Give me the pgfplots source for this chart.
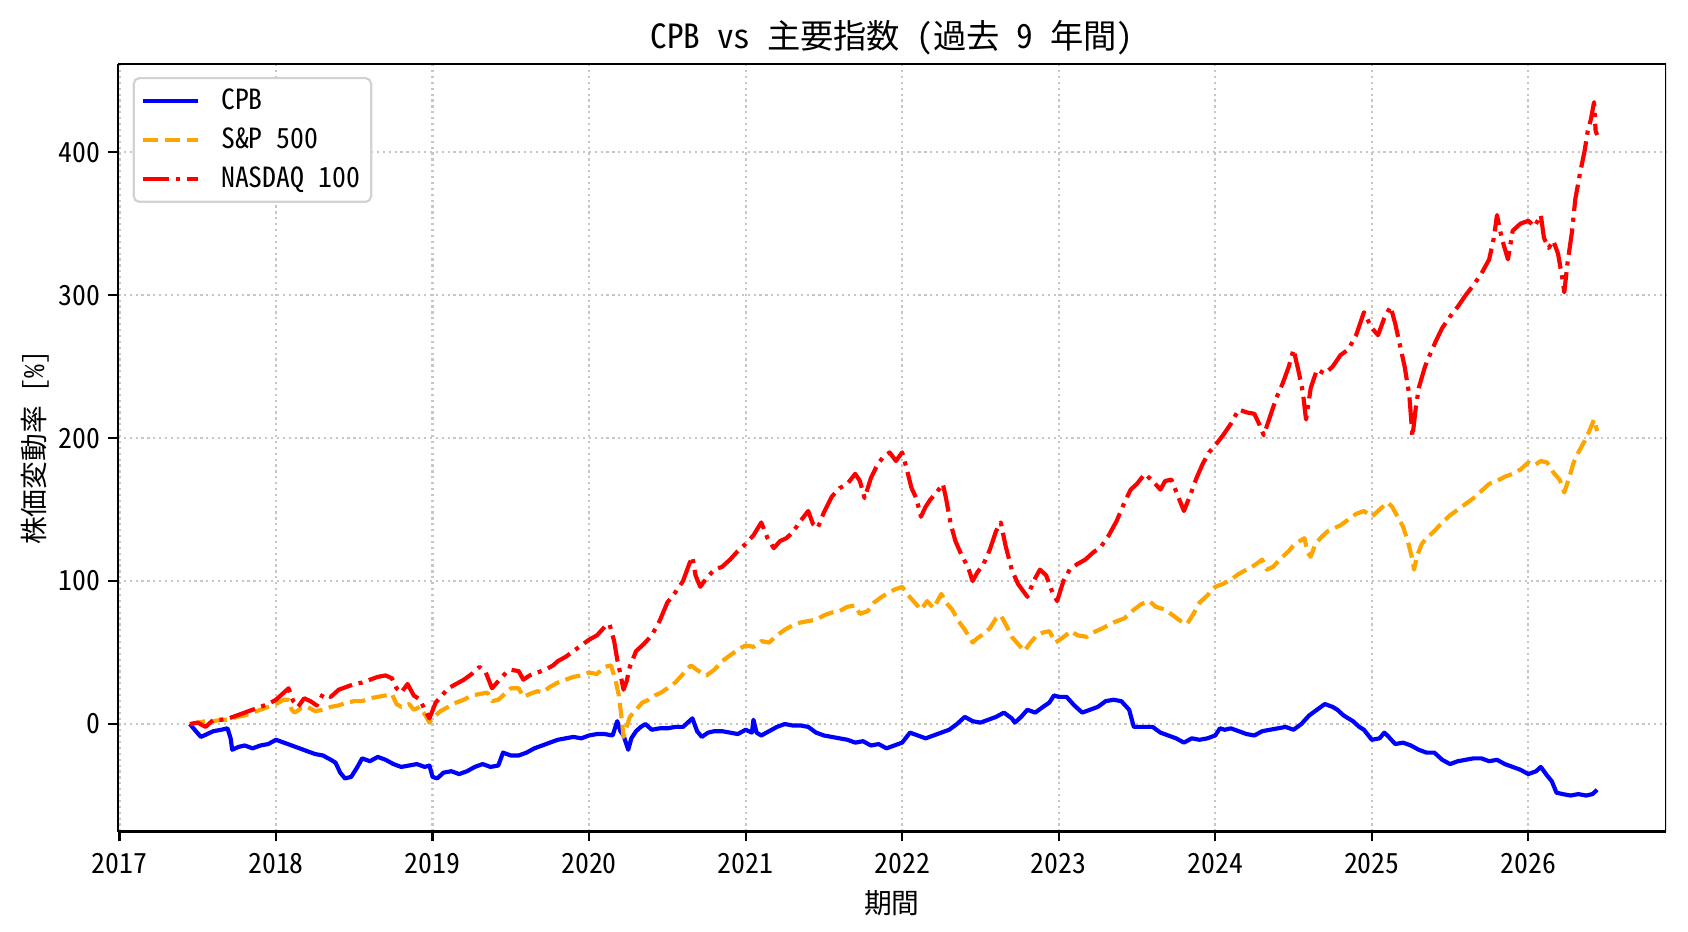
\documentclass[border=0pt]{standalone}
\usepackage{pgfplots}
\pgfplotsset{compat=1.18}
\usepackage{fontspec}
\setmainfont{Noto Sans Mono CJK JP}
\definecolor{mplblue}{RGB}{0,0,255}
\definecolor{mplorange}{RGB}{255,165,0}
\definecolor{mplred}{RGB}{255,0,0}
\begin{document}
\begin{tikzpicture}
\path[use as bounding box] (0,0) rectangle (760pt,419.4pt);
\begin{axis}[
  at={(53.1pt,45pt)}, anchor=south west,
  scale only axis, width=697pt, height=345.6pt,
  xmin=2016.99, xmax=2026.88, ymin=-75.2, ymax=461.7,
  xtick={2017,2018,2019,2020,2021,2022,2023,2024,2025,2026},
  ytick={0,100,200,300,400},
  /pgf/number format/1000 sep={},
  /pgf/number format/assume math mode=true,
  tick align=outside, axis x line*=bottom, axis y line*=left,
  every axis plot/.append style={line width=1.875pt, line join=round},
  major tick length=4.4pt,
  tick style={black, line width=1pt},
  axis line style={line width=1pt},
  grid=major,
  major grid style={gray!45, line width=1pt, dash pattern=on 1pt off 1.65pt},
  tick label style={font=\fontsize{12.5}{14}\selectfont},
  xticklabel style={yshift=-2pt},
  label style={font=\fontsize{12.5}{14}\selectfont},
  title style={font=\fontsize{15}{17}\selectfont, yshift=-5.5pt},
  title={CPB vs 主要指数 (過去 9 年間)},
  xlabel={期間}, ylabel={株価変動率 [\%]},
  xlabel style={yshift=-0.5pt},
  ylabel shift=-2.5pt,
  legend style={at={(0.0095,0.983)}, anchor=north west, draw=gray!35, rounded corners=2.5pt,
    line width=1pt, font=\fontsize{12.5}{14}\selectfont, row sep=2.6pt, inner sep=3pt},
  legend cell align=left,
  legend image code/.code={\draw[#1] (0pt,0pt) -- (25pt,0pt); \path (32.5pt,0pt);},
]
\addplot[mplblue, solid] coordinates {(2017.45,0) (2017.48,-4) (2017.52,-9) (2017.56,-7) (2017.6,-5) (2017.65,-4) (2017.69,-3) (2017.71,-10) (2017.72,-18) (2017.76,-16) (2017.8,-15) (2017.85,-17) (2017.9,-15) (2017.95,-14) (2018.0,-11) (2018.05,-13) (2018.1,-15) (2018.15,-17) (2018.2,-19) (2018.25,-21) (2018.3,-22) (2018.35,-25) (2018.38,-27) (2018.41,-34) (2018.44,-38) (2018.48,-37) (2018.52,-30) (2018.55,-24) (2018.6,-26) (2018.65,-23) (2018.7,-25) (2018.75,-28) (2018.8,-30) (2018.85,-29) (2018.9,-28) (2018.95,-30) (2018.98,-29) (2019.0,-37) (2019.03,-38) (2019.07,-34) (2019.12,-33) (2019.17,-35) (2019.22,-33) (2019.27,-30) (2019.32,-28) (2019.37,-30) (2019.42,-29) (2019.45,-20) (2019.5,-22) (2019.55,-22) (2019.6,-20) (2019.65,-17) (2019.7,-15) (2019.75,-13) (2019.8,-11) (2019.85,-10) (2019.9,-9) (2019.95,-10) (2020.0,-8) (2020.05,-7) (2020.1,-7) (2020.15,-8) (2020.18,2) (2020.2,-5) (2020.22,-8) (2020.25,-18) (2020.27,-10) (2020.3,-5) (2020.33,-2) (2020.36,0) (2020.4,-4) (2020.45,-3) (2020.5,-3) (2020.55,-2) (2020.6,-2) (2020.64,2) (2020.66,4) (2020.69,-5) (2020.72,-9) (2020.76,-6) (2020.8,-5) (2020.85,-5) (2020.9,-6) (2020.95,-7) (2021.0,-4) (2021.04,-6) (2021.05,3) (2021.07,-6) (2021.1,-8) (2021.15,-5) (2021.2,-2) (2021.25,0) (2021.3,-1) (2021.35,-1) (2021.4,-2) (2021.45,-6) (2021.5,-8) (2021.55,-9) (2021.6,-10) (2021.65,-11) (2021.7,-13) (2021.75,-12) (2021.8,-15) (2021.85,-14) (2021.9,-17) (2021.95,-15) (2022.0,-13) (2022.05,-6) (2022.1,-8) (2022.15,-10) (2022.2,-8) (2022.25,-6) (2022.3,-4) (2022.35,0) (2022.4,5) (2022.45,2) (2022.5,1) (2022.55,3) (2022.6,5) (2022.65,8) (2022.7,4) (2022.72,1) (2022.76,5) (2022.8,10) (2022.85,8) (2022.9,12) (2022.94,15) (2022.97,20) (2023.0,19) (2023.05,19) (2023.1,13) (2023.15,8) (2023.2,10) (2023.25,12) (2023.3,16) (2023.35,17) (2023.4,16) (2023.45,10) (2023.48,-2) (2023.55,-2) (2023.6,-2) (2023.65,-6) (2023.7,-8) (2023.75,-10) (2023.8,-13) (2023.85,-10) (2023.9,-11) (2023.95,-10) (2024.0,-8) (2024.03,-3) (2024.06,-4) (2024.1,-3) (2024.15,-5) (2024.2,-7) (2024.25,-8) (2024.3,-5) (2024.35,-4) (2024.4,-3) (2024.45,-2) (2024.5,-4) (2024.55,0) (2024.6,6) (2024.65,10) (2024.7,14) (2024.75,12) (2024.78,10) (2024.82,6) (2024.88,2) (2024.92,-2) (2024.95,-4) (2025.0,-11) (2025.05,-10) (2025.08,-6) (2025.1,-8) (2025.15,-14) (2025.2,-13) (2025.25,-15) (2025.3,-18) (2025.35,-20) (2025.4,-20) (2025.45,-25) (2025.5,-28) (2025.55,-26) (2025.6,-25) (2025.65,-24) (2025.7,-24) (2025.75,-26) (2025.8,-25) (2025.85,-28) (2025.9,-30) (2025.95,-32) (2026.0,-35) (2026.05,-33) (2026.08,-30) (2026.12,-36) (2026.15,-40) (2026.18,-48) (2026.22,-49) (2026.27,-50) (2026.32,-49) (2026.37,-50) (2026.41,-49) (2026.44,-46)};
\addlegendentry{CPB}
\addplot[mplorange, dash pattern=on 6.94pt off 3pt] coordinates {(2017.45,0) (2017.5,1) (2017.55,2) (2017.6,2) (2017.65,3) (2017.7,3) (2017.75,5) (2017.8,6) (2017.85,8) (2017.9,10) (2017.95,12) (2018.0,14) (2018.05,17) (2018.08,17) (2018.1,10) (2018.12,8) (2018.16,11) (2018.2,12) (2018.25,9) (2018.3,10) (2018.35,12) (2018.4,13) (2018.45,15) (2018.5,16) (2018.55,16) (2018.6,18) (2018.65,19) (2018.7,20) (2018.74,21) (2018.77,14) (2018.8,12) (2018.85,14) (2018.88,10) (2018.92,12) (2018.96,5) (2018.98,1) (2019.0,4) (2019.05,9) (2019.1,12) (2019.15,15) (2019.2,17) (2019.25,20) (2019.3,21) (2019.35,22) (2019.38,16) (2019.42,17) (2019.47,22) (2019.5,25) (2019.55,25) (2019.58,19) (2019.62,21) (2019.67,23) (2019.7,22) (2019.75,26) (2019.8,29) (2019.85,31) (2019.9,33) (2019.95,34) (2020.0,36) (2020.05,35) (2020.1,40) (2020.14,41) (2020.17,30) (2020.19,20) (2020.21,2) (2020.22,-9) (2020.24,-2) (2020.26,5) (2020.3,10) (2020.34,15) (2020.38,17) (2020.42,20) (2020.46,22) (2020.5,25) (2020.55,29) (2020.6,35) (2020.65,41) (2020.7,37) (2020.75,34) (2020.8,38) (2020.85,44) (2020.9,48) (2020.95,52) (2021.0,55) (2021.05,54) (2021.1,58) (2021.15,57) (2021.2,62) (2021.25,66) (2021.3,69) (2021.35,71) (2021.4,72) (2021.45,73) (2021.5,76) (2021.55,78) (2021.6,79) (2021.65,82) (2021.7,83) (2021.73,77) (2021.78,79) (2021.82,85) (2021.87,89) (2021.9,91) (2021.95,94) (2022.0,96) (2022.04,90) (2022.08,85) (2022.12,80) (2022.16,86) (2022.2,81) (2022.25,91) (2022.28,85) (2022.32,80) (2022.36,72) (2022.4,66) (2022.45,57) (2022.48,60) (2022.52,63) (2022.56,67) (2022.6,74) (2022.63,76) (2022.67,68) (2022.7,61) (2022.74,56) (2022.78,51) (2022.82,57) (2022.86,62) (2022.9,64) (2022.94,65) (2022.98,57) (2023.02,60) (2023.08,65) (2023.12,62) (2023.18,61) (2023.22,64) (2023.28,67) (2023.35,71) (2023.42,74) (2023.48,80) (2023.53,84) (2023.58,86) (2023.62,82) (2023.68,80) (2023.73,76) (2023.78,72) (2023.82,70) (2023.86,77) (2023.9,85) (2023.95,90) (2024.0,96) (2024.05,98) (2024.1,101) (2024.15,105) (2024.2,108) (2024.25,111) (2024.3,115) (2024.33,108) (2024.37,110) (2024.42,116) (2024.47,121) (2024.5,125) (2024.54,128) (2024.57,130) (2024.59,120) (2024.61,117) (2024.64,126) (2024.68,131) (2024.72,135) (2024.76,137) (2024.8,139) (2024.85,143) (2024.9,147) (2024.95,149) (2025.0,145) (2025.05,150) (2025.1,155) (2025.13,152) (2025.17,144) (2025.2,138) (2025.23,128) (2025.26,115) (2025.27,108) (2025.29,118) (2025.32,126) (2025.35,130) (2025.4,135) (2025.45,141) (2025.5,146) (2025.55,150) (2025.6,154) (2025.65,158) (2025.7,163) (2025.75,168) (2025.8,170) (2025.85,173) (2025.9,175) (2025.95,178) (2026.0,183) (2026.04,181) (2026.08,184) (2026.12,183) (2026.16,176) (2026.2,171) (2026.23,162) (2026.26,172) (2026.29,183) (2026.32,190) (2026.36,198) (2026.39,205) (2026.42,213) (2026.44,205)};
\addlegendentry{S\&P 500}
\addplot[mplred, dash pattern=on 12pt off 3pt on 1.875pt off 3pt] coordinates {(2017.45,0) (2017.5,1) (2017.55,-2) (2017.6,3) (2017.65,3) (2017.7,4) (2017.75,6) (2017.8,8) (2017.85,10) (2017.9,12) (2017.95,14) (2018.0,17) (2018.05,22) (2018.08,25) (2018.11,16) (2018.14,12) (2018.18,18) (2018.22,16) (2018.26,13) (2018.3,21) (2018.35,19) (2018.4,24) (2018.45,26) (2018.5,28) (2018.55,29) (2018.6,31) (2018.65,33) (2018.7,34) (2018.74,32) (2018.77,25) (2018.8,22) (2018.84,28) (2018.88,20) (2018.92,17) (2018.95,10) (2018.98,4) (2019.02,15) (2019.06,20) (2019.1,25) (2019.15,28) (2019.2,31) (2019.25,35) (2019.3,40) (2019.34,36) (2019.38,25) (2019.42,30) (2019.47,36) (2019.5,38) (2019.55,37) (2019.58,31) (2019.62,34) (2019.67,36) (2019.72,38) (2019.77,41) (2019.8,44) (2019.85,47) (2019.9,51) (2019.95,55) (2020.0,59) (2020.05,62) (2020.1,68) (2020.13,70) (2020.16,58) (2020.18,45) (2020.2,35) (2020.22,24) (2020.24,30) (2020.26,40) (2020.3,51) (2020.35,56) (2020.4,62) (2020.45,72) (2020.5,85) (2020.55,92) (2020.6,100) (2020.64,112) (2020.66,117) (2020.68,104) (2020.71,96) (2020.75,102) (2020.8,108) (2020.85,110) (2020.9,115) (2020.95,121) (2021.0,126) (2021.05,132) (2021.1,141) (2021.14,130) (2021.18,123) (2021.22,128) (2021.26,130) (2021.3,134) (2021.35,142) (2021.4,149) (2021.43,140) (2021.46,137) (2021.5,148) (2021.55,159) (2021.6,165) (2021.65,168) (2021.7,175) (2021.73,170) (2021.76,158) (2021.8,172) (2021.84,181) (2021.88,187) (2021.92,190) (2021.96,184) (2022.0,190) (2022.03,178) (2022.06,165) (2022.09,158) (2022.12,145) (2022.15,152) (2022.18,157) (2022.22,162) (2022.26,168) (2022.28,158) (2022.31,140) (2022.34,128) (2022.38,118) (2022.42,110) (2022.45,100) (2022.48,106) (2022.52,112) (2022.56,122) (2022.6,135) (2022.63,141) (2022.66,125) (2022.7,108) (2022.74,98) (2022.78,92) (2022.8,89) (2022.84,100) (2022.88,108) (2022.92,104) (2022.96,92) (2022.99,86) (2023.03,100) (2023.07,108) (2023.12,112) (2023.17,115) (2023.22,120) (2023.27,124) (2023.32,132) (2023.37,142) (2023.42,155) (2023.46,164) (2023.5,168) (2023.55,175) (2023.6,170) (2023.65,164) (2023.68,170) (2023.72,171) (2023.76,160) (2023.8,149) (2023.84,160) (2023.88,172) (2023.92,182) (2023.96,190) (2024.0,195) (2024.05,202) (2024.1,210) (2024.15,220) (2024.2,218) (2024.25,217) (2024.28,210) (2024.31,202) (2024.35,215) (2024.39,228) (2024.43,238) (2024.47,250) (2024.5,262) (2024.53,248) (2024.56,232) (2024.58,213) (2024.61,235) (2024.65,248) (2024.7,245) (2024.75,250) (2024.8,258) (2024.85,262) (2024.9,272) (2024.95,288) (2025.0,277) (2025.04,272) (2025.08,284) (2025.12,292) (2025.15,280) (2025.18,265) (2025.21,250) (2025.24,230) (2025.26,201) (2025.28,220) (2025.3,235) (2025.34,250) (2025.37,258) (2025.41,268) (2025.45,277) (2025.5,285) (2025.55,292) (2025.6,300) (2025.65,307) (2025.7,315) (2025.75,325) (2025.78,340) (2025.8,356) (2025.83,340) (2025.87,325) (2025.9,345) (2025.95,350) (2026.0,352) (2026.04,348) (2026.08,356) (2026.1,340) (2026.13,333) (2026.16,338) (2026.19,329) (2026.22,310) (2026.23,302) (2026.25,322) (2026.28,345) (2026.3,367) (2026.33,385) (2026.36,401) (2026.38,415) (2026.4,423) (2026.42,435) (2026.43,415) (2026.44,412)};
\addlegendentry{NASDAQ 100}
\draw[line width=1pt] (rel axis cs:0,1) -- (rel axis cs:1,1) -- (rel axis cs:1,0);
\end{axis}
\end{tikzpicture}
\end{document}
